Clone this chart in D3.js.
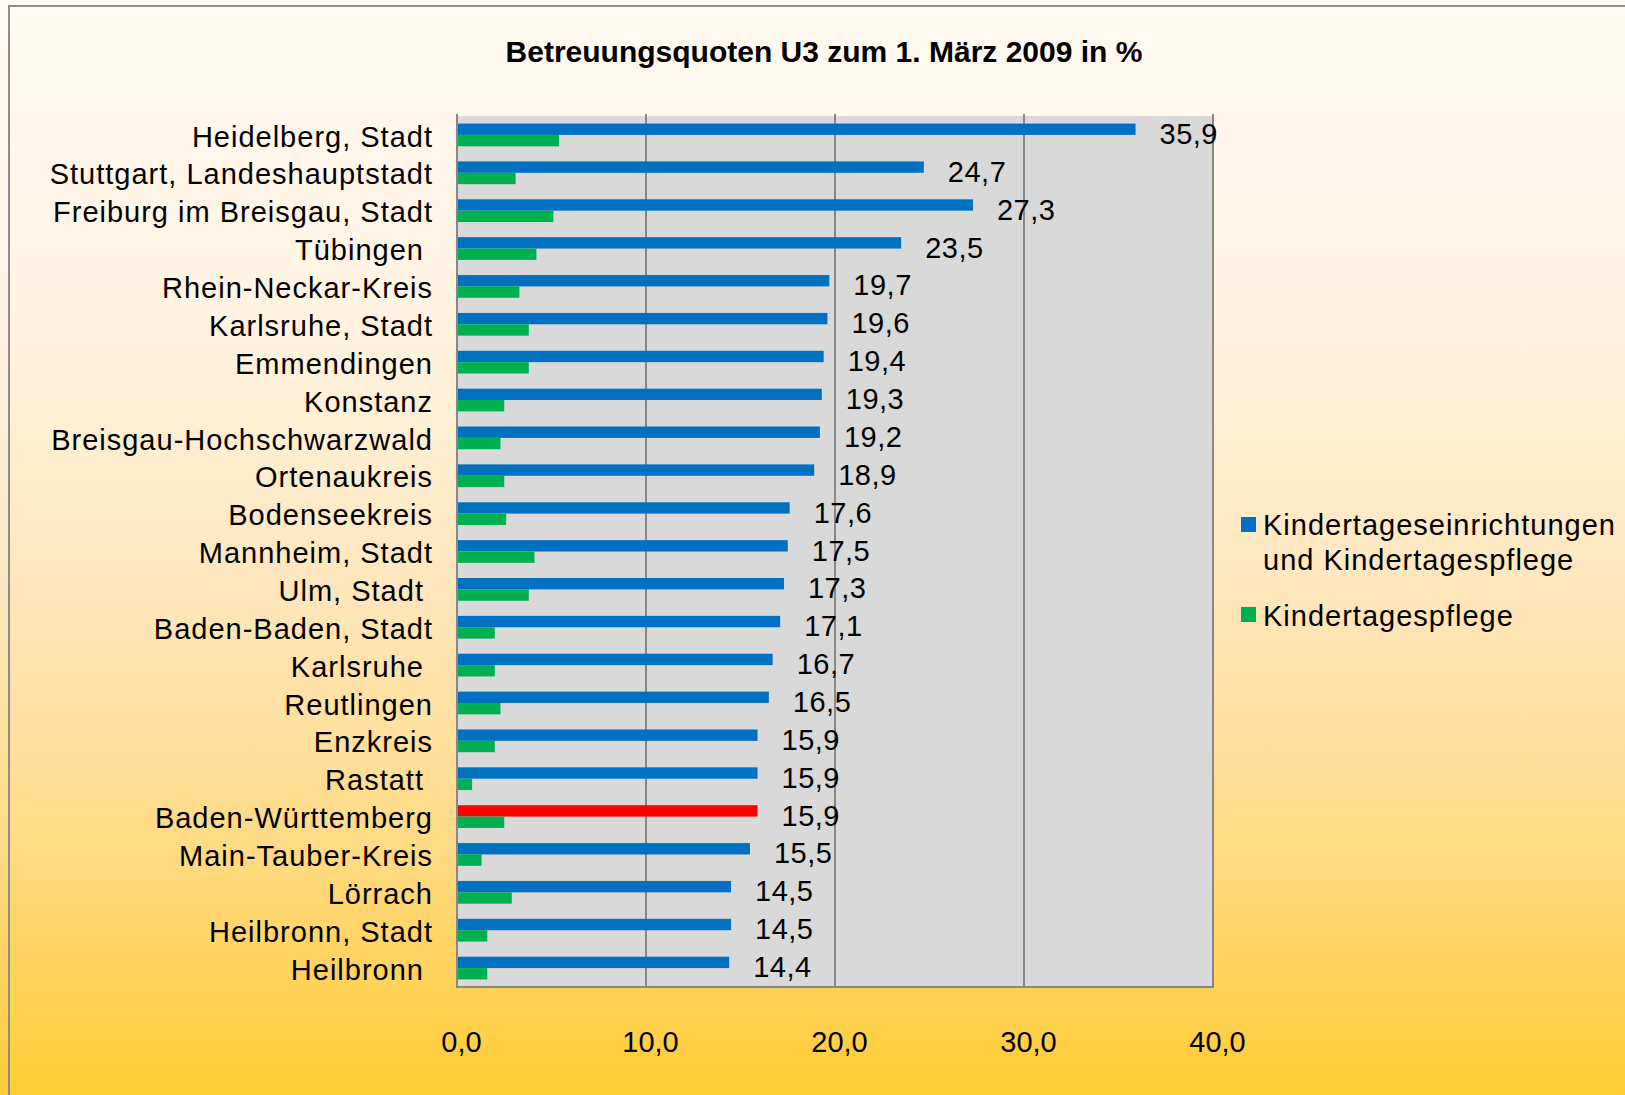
<!DOCTYPE html>
<html>
<head>
<meta charset="utf-8">
<script src="https://cdn.jsdelivr.net/npm/d3@7"></script>
<style>
  html, body { margin: 0; padding: 0; }
  svg { display: block; font-family: "Liberation Sans", Arial, sans-serif; }
  .cat-label, .legend-text { font-size: 29px; letter-spacing: 1px; fill: #000; white-space: pre; }
  .value-label { font-size: 29px; letter-spacing: 0.5px; fill: #000; }
  .tick-label { font-size: 29px; fill: #000; }
  #chart-title { font-size: 30px; font-weight: bold; fill: #000; }
</style>
</head>
<body>
<svg id="svg-chart" width="1625" height="1095"></svg>
<script>
//////////////////////////////////////////////////////////////////////////////////////////
// Data
//////////////////////////////////////////////////////////////////////////////////////////

var chart_title = 'Betreuungsquoten U3 zum 1. März 2009 in %'

var categories = [
  'Heidelberg, Stadt', 'Stuttgart, Landeshauptstadt', 'Freiburg im Breisgau, Stadt',
  'Tübingen ', 'Rhein-Neckar-Kreis', 'Karlsruhe, Stadt', 'Emmendingen', 'Konstanz',
  'Breisgau-Hochschwarzwald', 'Ortenaukreis', 'Bodenseekreis', 'Mannheim, Stadt',
  'Ulm, Stadt ', 'Baden-Baden, Stadt', 'Karlsruhe ', 'Reutlingen', 'Enzkreis',
  'Rastatt ', 'Baden-Württemberg', 'Main-Tauber-Kreis', 'Lörrach', 'Heilbronn, Stadt',
  'Heilbronn '
]

// Kindertageseinrichtungen und Kindertagespflege
var total_values = [
  35.9, 24.7, 27.3, 23.5, 19.7, 19.6, 19.4, 19.3, 19.2, 18.9, 17.6, 17.5,
  17.3, 17.1, 16.7, 16.5, 15.9, 15.9, 15.9, 15.5, 14.5, 14.5, 14.4
]

// Kindertagespflege
var pflege_values = [
  5.4, 3.1, 5.1, 4.2, 3.3, 3.8, 3.8, 2.5, 2.3, 2.5, 2.6, 4.1,
  3.8, 2.0, 2.0, 2.3, 2.0, 0.8, 2.5, 1.3, 2.9, 1.6, 1.6
]

var series_names = ['Kindertageseinrichtungen', 'und Kindertagespflege', 'Kindertagespflege']
var x_ticks = [0, 10, 20, 30, 40]
var highlight = 'Baden-Württemberg'

//////////////////////////////////////////////////////////////////////////////////////////
// Layout
//////////////////////////////////////////////////////////////////////////////////////////

var svg = d3.select('#svg-chart')
var colors = { blue: '#0070c0', green: '#00b050', red: '#ff0000', grid: '#878787' }

var x = d3.scaleLinear().domain([0, 40]).range([457, 1213])
var y = d3.scaleBand().domain(categories).range([116, 987])
var bar_h = y.bandwidth() * 0.3

var de = d3.formatLocale({ decimal: ',', thousands: '.', grouping: [3], currency: ['', ' €'] })
var fmt = de.format('.1f')

draw_background()
draw_plot_area()
draw_bars()
draw_axes()
draw_legend()

//////////////////////////////////////////////////////////////////////////////////////////
// Background and frame
//////////////////////////////////////////////////////////////////////////////////////////

function draw_background() {
  var grad = svg.append('defs')
    .append('linearGradient')
    .attr('id', 'bg-grad')
    .attr('x1', 0).attr('y1', 0).attr('x2', 0).attr('y2', 1)

  var stops = [[0, '#fffaf3'], [0.3, '#fff3e0'], [0.55, '#fee6ba'], [0.78, '#ffda82'], [1, '#ffcc33']]
  grad.selectAll('stop')
    .data(stops)
    .join('stop')
    .attr('offset', d => d[0])
    .attr('stop-color', d => d[1])

  svg.append('rect')
    .attr('width', 1625).attr('height', 1095)
    .attr('fill', 'url(#bg-grad)')

  // outer frame, runs off the right and bottom edge
  svg.append('rect')
    .attr('x', 9).attr('y', 6)
    .attr('width', 1700).attr('height', 1200)
    .attr('fill', 'none')
    .attr('stroke', '#8c8c8c')
    .attr('stroke-width', 2)

  svg.append('text')
    .attr('id', 'chart-title')
    .attr('x', 824).attr('y', 62)
    .attr('text-anchor', 'middle')
    .text(chart_title)
}

//////////////////////////////////////////////////////////////////////////////////////////
// Plot area and gridlines
//////////////////////////////////////////////////////////////////////////////////////////

function draw_plot_area() {
  svg.append('rect')
    .attr('x', x(0)).attr('y', y.range()[0])
    .attr('width', x(40) - x(0))
    .attr('height', y.range()[1] - y.range()[0])
    .attr('fill', '#d9d9d9')

  svg.append('g')
    .selectAll('line')
    .data(x_ticks.slice(1))
    .join('line')
    .attr('x1', d => x(d)).attr('x2', d => x(d))
    .attr('y1', 114).attr('y2', y.range()[1])
    .attr('stroke', colors.grid)
    .attr('stroke-width', 2)
}

//////////////////////////////////////////////////////////////////////////////////////////
// Bars and value labels
//////////////////////////////////////////////////////////////////////////////////////////

function draw_bars() {
  var rows = categories.map((c, i) => ({ cat: c, total: total_values[i], pflege: pflege_values[i] }))
  var mid = d => y(d.cat) + y.bandwidth() / 2

  svg.append('g')
    .selectAll('rect')
    .data(rows)
    .join('rect')
    .attr('x', x(0))
    .attr('y', d => mid(d) - bar_h)
    .attr('width', d => x(d.total) - x(0))
    .attr('height', bar_h)
    .attr('fill', d => d.cat == highlight ? colors.red : colors.blue)

  svg.append('g')
    .selectAll('rect')
    .data(rows)
    .join('rect')
    .attr('x', x(0))
    .attr('y', d => mid(d))
    .attr('width', d => x(d.pflege) - x(0))
    .attr('height', bar_h)
    .attr('fill', colors.green)

  svg.append('g')
    .selectAll('text')
    .data(rows)
    .join('text')
    .attr('class', 'value-label')
    .attr('x', d => x(d.total) + 24)
    .attr('y', d => mid(d) + 9)
    .text(d => fmt(d.total))
}

//////////////////////////////////////////////////////////////////////////////////////////
// Axes
//////////////////////////////////////////////////////////////////////////////////////////

function draw_axes() {
  var g_left = svg.append('g')
    .attr('transform', 'translate(' + x(0) + ',0)')
    .call(d3.axisLeft(y).tickSize(0).tickPadding(24))
  g_left.select('.domain').remove()
  g_left.selectAll('text')
    .attr('class', 'cat-label')
    .attr('font-size', null).attr('font-family', null)
    .attr('dy', '0.4em')
  g_left.attr('font-size', null).attr('font-family', null)

  var g_bottom = svg.append('g')
    .attr('transform', 'translate(0,' + y.range()[1] + ')')
    .call(d3.axisBottom(x).tickValues(x_ticks).tickFormat(fmt).tickSize(0).tickPadding(44))
  g_bottom.select('.domain').remove()
  g_bottom.selectAll('text')
    .attr('class', 'tick-label')
    .attr('dx', 4)
  g_bottom.attr('font-size', null).attr('font-family', null)

  // axis lines
  svg.append('line')
    .attr('x1', x(0)).attr('x2', x(0))
    .attr('y1', 114).attr('y2', y.range()[1] + 1)
    .attr('stroke', colors.grid).attr('stroke-width', 2)
  svg.append('line')
    .attr('x1', x(0) - 1).attr('x2', x(40) + 1)
    .attr('y1', y.range()[1]).attr('y2', y.range()[1])
    .attr('stroke', colors.grid).attr('stroke-width', 2)
}

//////////////////////////////////////////////////////////////////////////////////////////
// Legend
//////////////////////////////////////////////////////////////////////////////////////////

function draw_legend() {
  var g = svg.append('g').attr('id', 'g-legend')

  g.append('rect')
    .attr('x', 1241).attr('y', 517)
    .attr('width', 15).attr('height', 15)
    .attr('fill', colors.blue)
  g.append('text')
    .attr('class', 'legend-text')
    .attr('x', 1263).attr('y', 535)
    .text(series_names[0])
  g.append('text')
    .attr('class', 'legend-text')
    .attr('x', 1263).attr('y', 570)
    .text(series_names[1])

  g.append('rect')
    .attr('x', 1241).attr('y', 607)
    .attr('width', 15).attr('height', 15)
    .attr('fill', colors.green)
  g.append('text')
    .attr('class', 'legend-text')
    .attr('x', 1263).attr('y', 626)
    .text(series_names[2])
}
</script>
</body>
</html>
